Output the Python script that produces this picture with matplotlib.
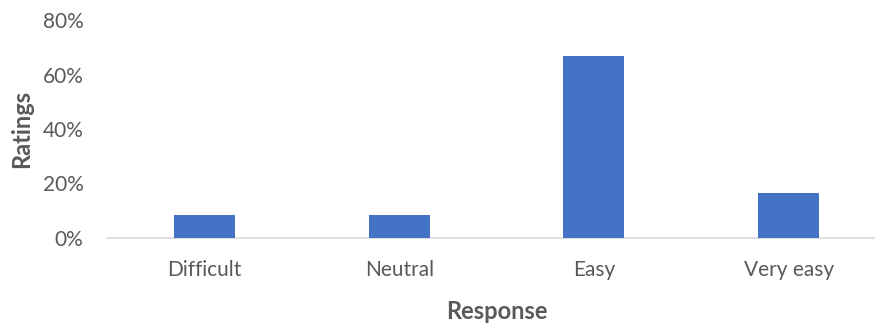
import matplotlib
matplotlib.use("Agg")
import matplotlib.pyplot as plt
from matplotlib.ticker import PercentFormatter

categories = ["Difficult", "Neutral", "Easy", "Very easy"]
ratings = [8.33, 8.33, 66.67, 16.67]
y_ticks = [0, 20, 40, 60, 80]

plt.rcParams["font.family"] = ["Lato", "DejaVu Sans"]
text_color = "#595959"

fig = plt.figure(figsize=(8.75, 3.25), dpi=100)
ax = fig.add_axes([0.1225, 0.268, 0.890, 0.670])

x = range(len(categories))
ax.bar(x, ratings, width=0.313, color="#4472C4", zorder=3)

ax.set_xlim(-0.5, len(categories) - 0.5)
ax.set_ylim(0, 80)
ax.set_yticks(y_ticks)
ax.yaxis.set_major_formatter(PercentFormatter(decimals=0))
ax.set_xticks(list(x))
ax.set_xticklabels(categories)

for side in ["top", "right", "left"]:
    ax.spines[side].set_visible(False)
ax.spines["bottom"].set_color("#d9d9d9")
ax.spines["bottom"].set_linewidth(1.2)

ax.tick_params(axis="both", length=0, labelsize=15, colors=text_color)
ax.tick_params(axis="x", pad=16)
ax.tick_params(axis="y", pad=17)

ax.set_xlabel("Response", fontsize=17, fontweight="bold", color=text_color, labelpad=14)
ax.set_ylabel("Ratings", fontsize=17, fontweight="bold", color=text_color, labelpad=7)

fig.savefig("out.png", dpi=100)
